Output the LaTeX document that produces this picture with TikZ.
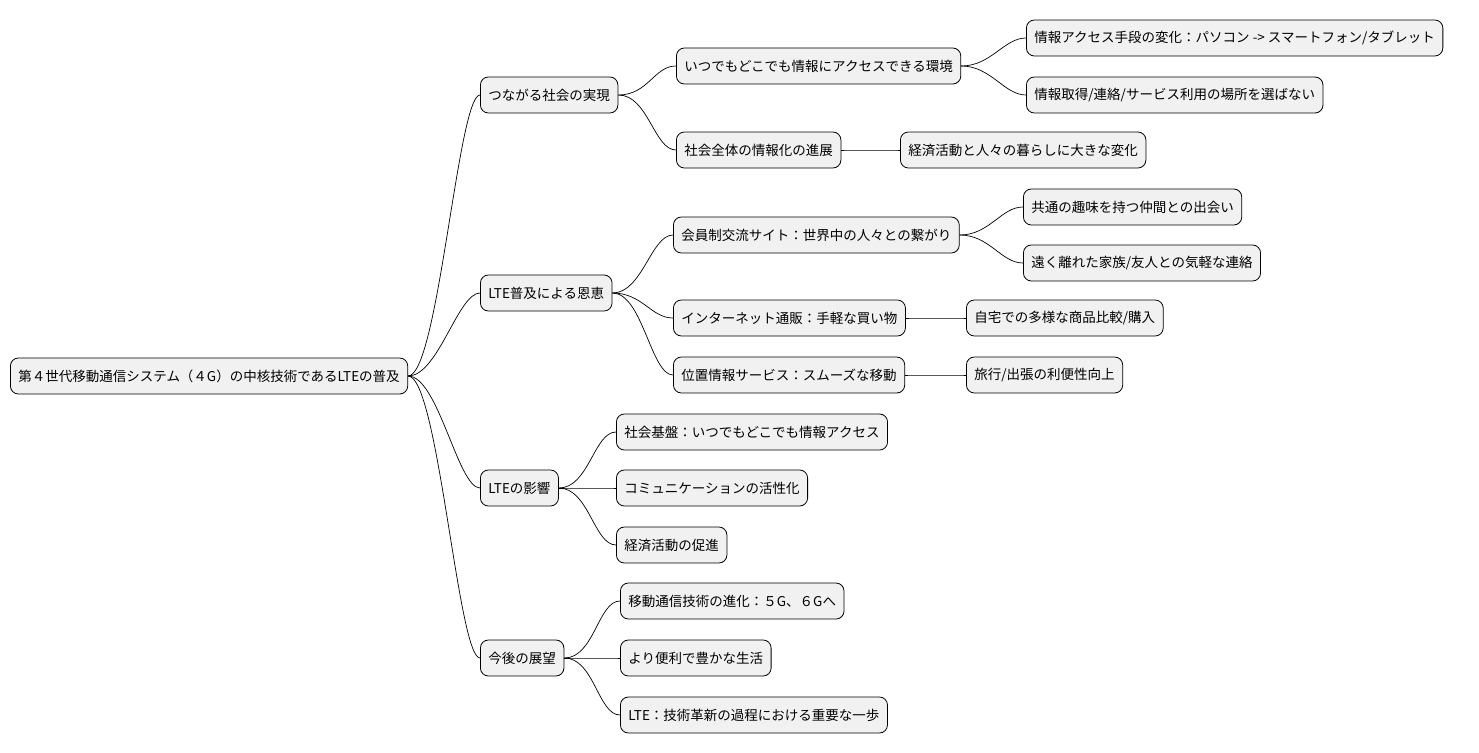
\documentclass[tikz,border=0pt]{standalone}
\usepackage{fontspec}
\setmainfont{Noto Sans CJK JP}
\begin{document}
\begin{tikzpicture}[x=1pt,y=-1pt,
  box/.style={draw=black,fill={rgb,255:red,241;green,241;blue,241},rounded corners=8pt,
    minimum height=36pt,inner xsep=8pt,anchor=west,font=\fontsize{13.5}{16}\selectfont,line width=0.8pt},
  link/.style={draw=black,line width=0.7pt}]
\useasboundingbox (0,0) rectangle (1479,752);
\node[box] (r) at (10,376) {第４世代移動通信システム（４G）の中核技術であるLTEの普及};
\node[box] (a) at (480,95) {つながる社会の実現};
\node[box] (b) at (480,293) {LTE普及による恩恵};
\node[box] (c) at (480,488) {LTEの影響};
\node[box] (d) at (480,658) {今後の展望};
\node[box] (a1) at (676,66) {いつでもどこでも情報にアクセスできる環境};
\node[box] (a2) at (676,150) {社会全体の情報化の進展};
\node[box] (b1) at (673,235) {会員制交流サイト：世界中の人々との繋がり};
\node[box] (b2) at (673,318) {インターネット通販：手軽な買い物};
\node[box] (b3) at (673,375) {位置情報サービス：スムーズな移動};
\node[box] (c1) at (616,432) {社会基盤：いつでもどこでも情報アクセス};
\node[box] (c2) at (616,488) {コミュニケーションの活性化};
\node[box] (c3) at (616,545) {経済活動の促進};
\node[box] (d1) at (620,601) {移動通信技術の進化：５G、６Gへ};
\node[box] (d2) at (620,658) {より便利で豊かな生活};
\node[box] (d3) at (620,715) {LTE：技術革新の過程における重要な一歩};
\node[box] (a11) at (1026,38) {情報アクセス手段の変化：パソコン -> スマートフォン/タブレット};
\node[box] (a12) at (1026,95) {情報取得/連絡/サービス利用の場所を選ばない};
\node[box] (a21) at (900,150) {経済活動と人々の暮らしに大きな変化};
\node[box] (b11) at (1023,207) {共通の趣味を持つ仲間との出会い};
\node[box] (b12) at (1023,263) {遠く離れた家族/友人との気軽な連絡};
\node[box] (b21) at (966,318) {自宅での多様な商品比較/購入};
\node[box] (b31) at (966,375) {旅行/出張の利便性向上};
\foreach \p/\c in {r/a,r/b,r/c,r/d,a/a1,a/a2,b/b1,b/b2,b/b3,c/c1,c/c2,c/c3,d/d1,d/d2,d/d3,a1/a11,a1/a12,a2/a21,b1/b11,b1/b12,b2/b21,b3/b31}
  \draw[link] (\p.east) .. controls ([xshift=30]\p.east) and ([xshift=-22]\c.west) .. (\c.west);
\end{tikzpicture}
\end{document}
